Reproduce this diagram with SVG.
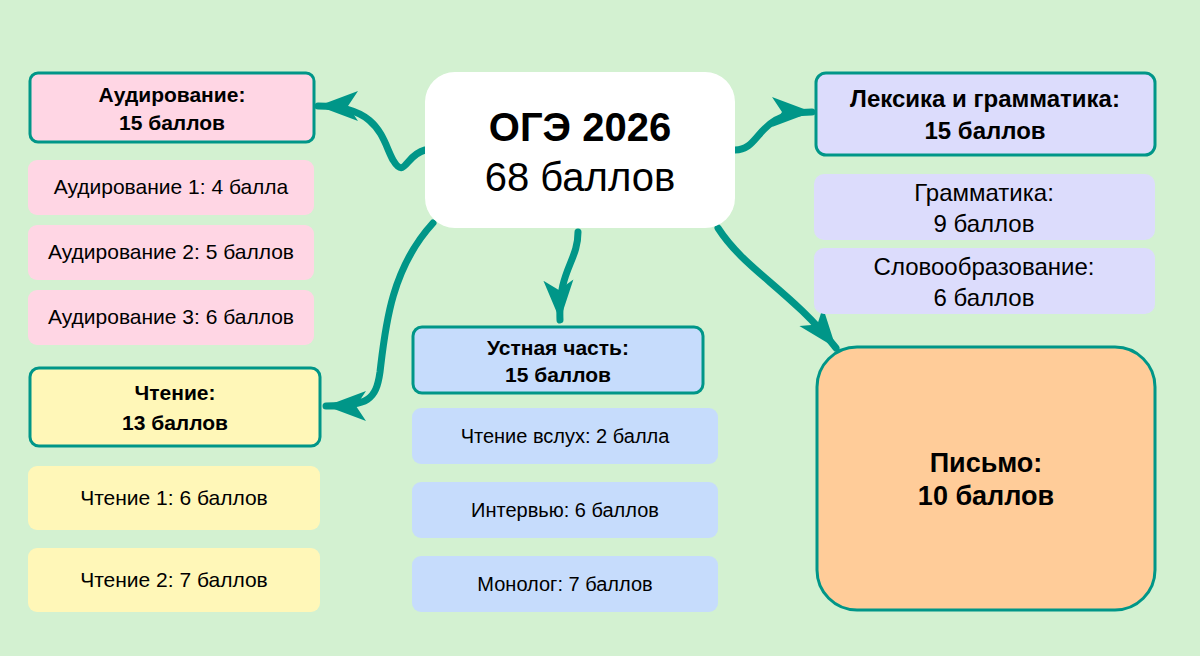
<svg xmlns="http://www.w3.org/2000/svg" width="1200" height="656" viewBox="0 0 1200 656">
<style>
.hd{stroke:#009688;stroke-width:3}
.t{font-family:"Liberation Sans",Arial,sans-serif;text-anchor:middle;fill:#000}
.b{font-weight:bold;font-size:21px}
.i{font-size:21px}
.c{fill:none;stroke:#009688;stroke-width:7;stroke-linecap:round;marker-end:url(#ah)}
</style>
<defs>
<marker id="ah" markerUnits="userSpaceOnUse" markerWidth="46" markerHeight="34" refX="40" refY="17" orient="auto" viewBox="0 0 46 34">
<path d="M0,2 L40,17 L0,32 L10,17 z" fill="#009688"/>
</marker>
</defs>
<rect width="1200" height="656" fill="#d3f1d1"/>
<g id="connectors">
<path class="c" d="M425,150 C405,155 405,180 393,160 C382,140 380,106 318,106"/>
<path class="c" d="M735,150 C762,150 755,112 812,112"/>
<path class="c" d="M578,232 C578,262 558,270 560,320"/>
<path class="c" d="M433,223 C390,270 385,330 380,372 C376,400 368,406 326,406"/>
<path class="c" d="M718,228 C745,270 790,290 836,348"/>
</g>
<g id="center"><rect x="425" y="72" width="310" height="156" rx="30" fill="#fff"/>
<text class="t" x="580" y="141" style="font-weight:bold;font-size:40px">ОГЭ 2026</text>
<text class="t" x="580" y="191" style="font-size:40px">68 баллов</text></g>
<g id="aud"><rect class="hd" x="30" y="73" width="284" height="69" rx="8" fill="#ffd6e4"/>
<text class="t b" x="172" y="102">Аудирование:</text><text class="t b" x="172" y="130">15 баллов</text></g>
<g id="aud1"><rect x="28" y="160" width="286" height="55" rx="9" fill="#ffd6e4"/><text class="t i" x="171" y="194">Аудирование 1: 4 балла</text></g>
<g id="aud2"><rect x="28" y="225" width="286" height="55" rx="9" fill="#ffd6e4"/><text class="t i" x="171" y="259">Аудирование 2: 5 баллов</text></g>
<g id="aud3"><rect x="28" y="290" width="286" height="55" rx="9" fill="#ffd6e4"/><text class="t i" x="171" y="324">Аудирование 3: 6 баллов</text></g>
<g id="read"><rect class="hd" x="30" y="368" width="290" height="78" rx="9" fill="#fff7b8"/>
<text class="t b" x="175" y="400">Чтение:</text><text class="t b" x="175" y="430">13 баллов</text></g>
<g id="read1"><rect x="28" y="466" width="292" height="64" rx="9" fill="#fff7b8"/><text class="t i" x="174" y="505">Чтение 1: 6 баллов</text></g>
<g id="read2"><rect x="28" y="548" width="292" height="64" rx="9" fill="#fff7b8"/><text class="t i" x="174" y="587">Чтение 2: 7 баллов</text></g>
<g id="oral"><rect class="hd" x="413" y="327" width="290" height="66" rx="9" fill="#c6dcfc"/>
<text class="t b" x="558" y="355">Устная часть:</text><text class="t b" x="558" y="382">15 баллов</text></g>
<g id="oral1"><rect x="412" y="408" width="306" height="56" rx="9" fill="#c6dcfc"/><text class="t" x="565" y="443" style="font-size:20px">Чтение вслух: 2 балла</text></g>
<g id="oral2"><rect x="412" y="482" width="306" height="56" rx="9" fill="#c6dcfc"/><text class="t" x="565" y="517" style="font-size:20px">Интервью: 6 баллов</text></g>
<g id="oral3"><rect x="412" y="556" width="306" height="56" rx="9" fill="#c6dcfc"/><text class="t" x="565" y="591" style="font-size:20px">Монолог: 7 баллов</text></g>
<g id="lex"><rect class="hd" x="816" y="73" width="339" height="82" rx="10" fill="#dcdcfc"/>
<text class="t" x="985" y="107" style="font-weight:bold;font-size:24px">Лексика и грамматика:</text><text class="t" x="985" y="139" style="font-weight:bold;font-size:24px">15 баллов</text></g>
<g id="gram"><rect x="814" y="174" width="341" height="66" rx="10" fill="#dcdcfc"/>
<text class="t" x="984" y="201" style="font-size:24px">Грамматика:</text><text class="t" x="984" y="232" style="font-size:24px">9 баллов</text></g>
<g id="word"><rect x="814" y="248" width="341" height="66" rx="10" fill="#dcdcfc"/>
<text class="t" x="984" y="275" style="font-size:24px">Словообразование:</text><text class="t" x="984" y="306" style="font-size:24px">6 баллов</text></g>
<g id="write"><rect class="hd" x="817" y="347" width="338" height="263" rx="40" fill="#ffcc99"/>
<text class="t" x="986" y="472" style="font-weight:bold;font-size:27px">Письмо:</text><text class="t" x="986" y="505" style="font-weight:bold;font-size:27px">10 баллов</text></g>
</svg>
